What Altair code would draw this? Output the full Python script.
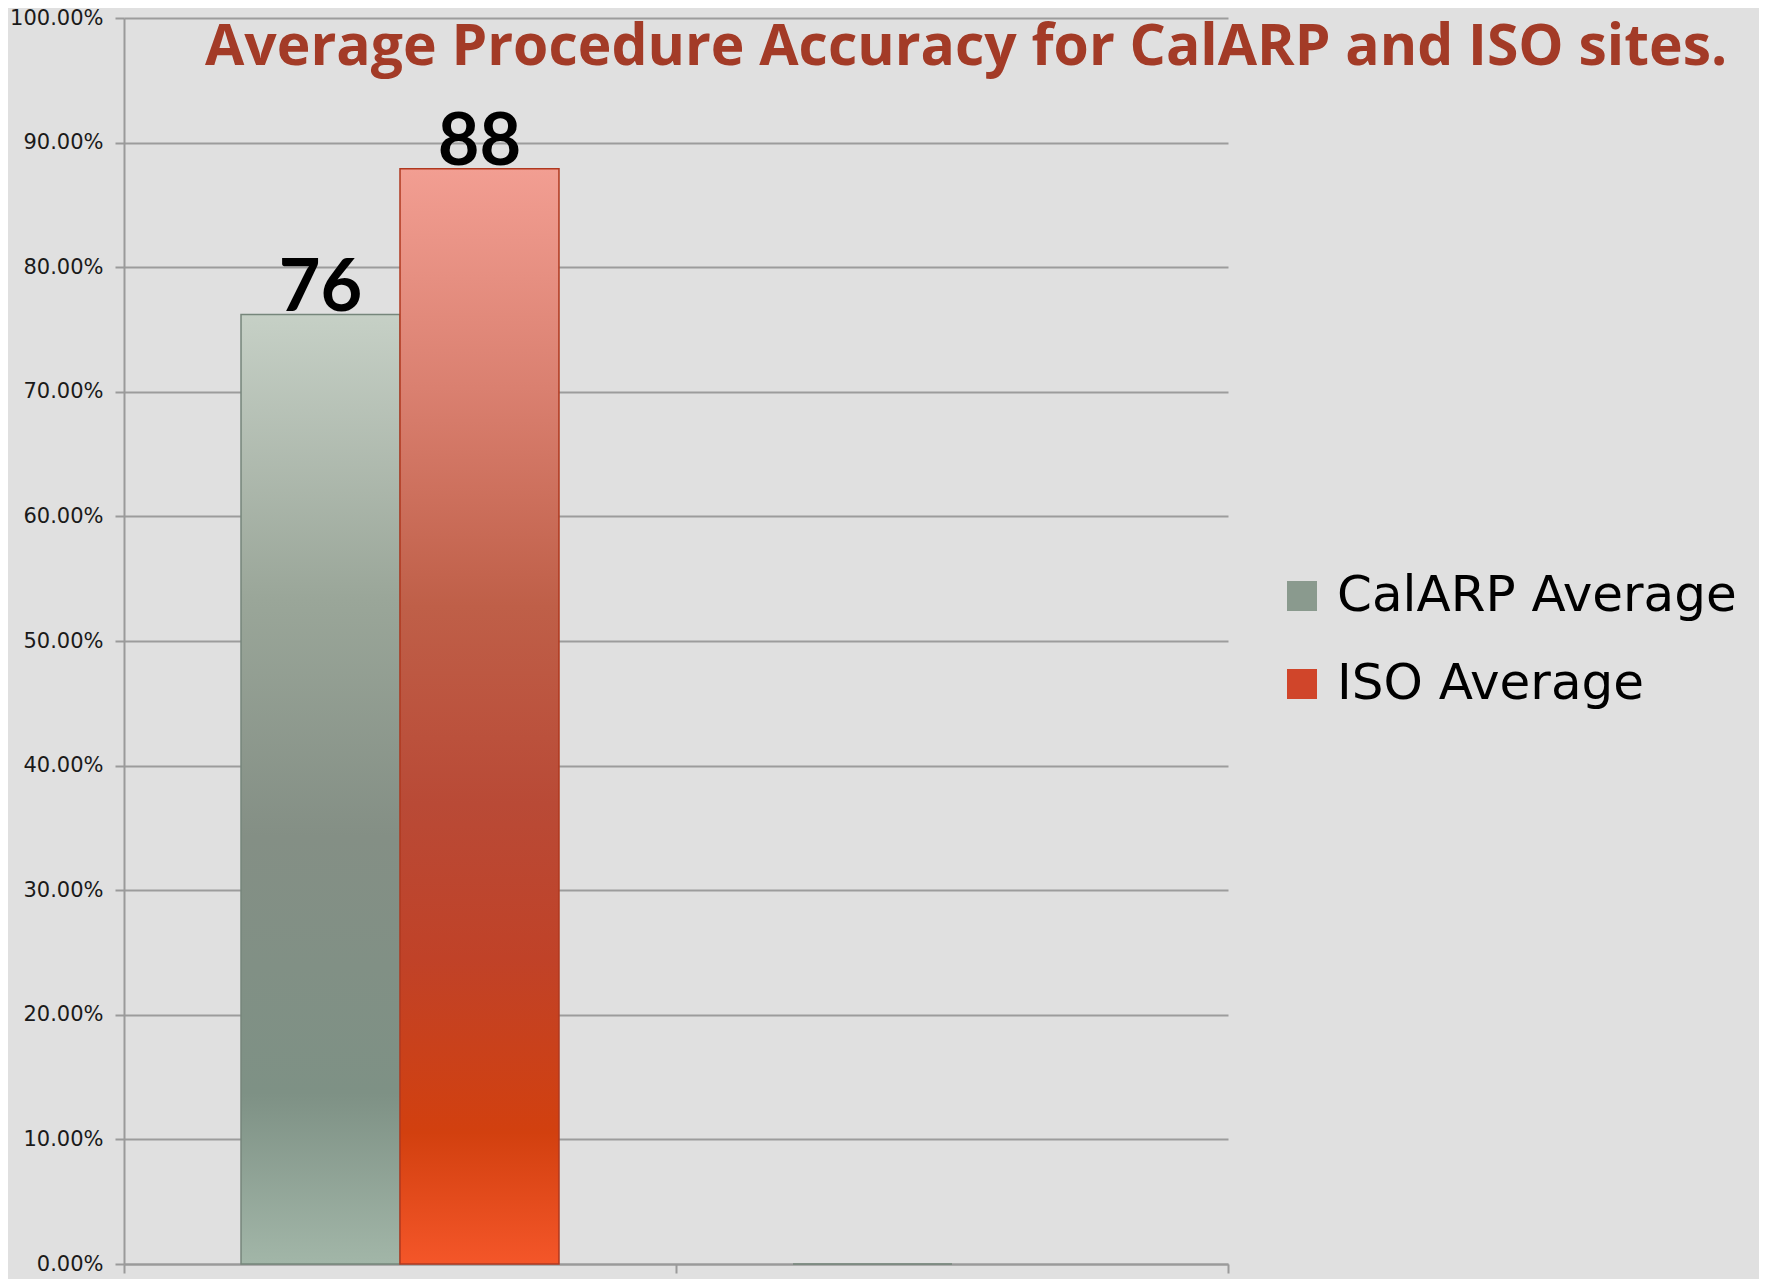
import altair as alt
import pandas as pd

categories = ["Group 1", "Group 2"]
series = ["CalARP Average", "ISO Average"]
calarp_values = [0.762, 0.0]
iso_values = [0.879, None]
calarp_labels = ["76", ""]
iso_labels = ["88", ""]
y_ticks = [i / 10 for i in range(11)]

rows = []
for c, v, l in zip(categories, calarp_values, calarp_labels):
    if v is not None:
        rows.append({"cat": c, "series": series[0], "value": v, "label": l})
for c, v, l in zip(categories, iso_values, iso_labels):
    if v is not None:
        rows.append({"cat": c, "series": series[1], "value": v, "label": l})
df = pd.DataFrame(rows)

grey_grad = alt.Gradient(
    gradient="linear", x1=0, x2=0, y1=0, y2=1,
    stops=[
        alt.GradientStop(offset=0, color="#C6D0C6"),
        alt.GradientStop(offset=0.3, color="#9AA699"),
        alt.GradientStop(offset=0.55, color="#848F85"),
        alt.GradientStop(offset=0.82, color="#7E9185"),
        alt.GradientStop(offset=1, color="#A2B6A8"),
    ],
)
red_grad = alt.Gradient(
    gradient="linear", x1=0, x2=0, y1=0, y2=1,
    stops=[
        alt.GradientStop(offset=0, color="#F29E92"),
        alt.GradientStop(offset=0.2, color="#DA8070"),
        alt.GradientStop(offset=0.4, color="#BF5F48"),
        alt.GradientStop(offset=0.58, color="#B94A36"),
        alt.GradientStop(offset=0.72, color="#C04228"),
        alt.GradientStop(offset=0.88, color="#D2400F"),
        alt.GradientStop(offset=1, color="#F45629"),
    ],
)

x_enc = alt.X(
    "cat:N",
    sort=categories,
    scale=alt.Scale(domain=categories, paddingInner=0, paddingOuter=0),
    axis=alt.Axis(
        title=None, labels=False, tickBand="extent", ticks=True, tickSize=9,
        tickColor="#9a9a9a", tickWidth=2, domainColor="#9a9a9a", domainWidth=2,
        grid=False,
    ),
)
xoff_enc = alt.XOffset(
    "series:N",
    sort=series,
    scale=alt.Scale(domain=series, paddingInner=0, paddingOuter=0.736),
)
y_enc = alt.Y(
    "value:Q",
    scale=alt.Scale(domain=[0, 1], nice=False),
    axis=alt.Axis(
        title=None, format=".2%", values=y_ticks, labelFont="DejaVu Sans",
        labelFontSize=21, labelColor="#1a1a1a", labelPadding=12,
        tickSize=9, tickColor="#9a9a9a", tickWidth=2,
        domainColor="#9a9a9a", domainWidth=2,
        grid=True, gridColor="#9c9c9c", gridWidth=2,
    ),
)

base = alt.Chart(df).encode(x=x_enc, xOffset=xoff_enc, y=y_enc)

legend_bars = base.mark_bar().encode(
    color=alt.Color(
        "series:N",
        sort=series,
        scale=alt.Scale(domain=series, range=["#8A9A8E", "#D0452A"]),
        legend=alt.Legend(
            title=None, orient="none", legendX=1153, legendY=553,
            symbolType="square", symbolSize=900, symbolStrokeWidth=1.5,
            labelFont="DejaVu Sans", labelFontSize=50, labelColor="#000000",
            labelOffset=10, rowPadding=38, padding=0, symbolOffset=0,
            labelLimit=0,
        ),
    )
)

grey_bars = base.mark_bar(color=grey_grad, stroke="#76867B", strokeWidth=1.5).transform_filter(
    alt.datum.series == series[0]
)
red_bars = base.mark_bar(color=red_grad, stroke="#B0381F", strokeWidth=1.5).transform_filter(
    alt.datum.series == series[1]
)

labels = base.mark_text(
    font="Lato", fontWeight="bold", fontSize=72, color="#000000",
    baseline="alphabetic", dy=-4,
).encode(text="label:N")

chart = (
    alt.layer(legend_bars, grey_bars, red_bars, labels)
    .properties(
        width=1104,
        height=1246,
        title=alt.TitleParams(
            text="Average Procedure Accuracy for CalARP and ISO sites.",
            font="Open Sans", fontSize=57, fontWeight="bold", color="#A33B27",
            anchor="start", frame="group", dx=81, dy=115, baseline="alphabetic",
            offset=0,
        ),
        autosize=alt.AutoSizeParams(type="none"),
        padding={"left": 116, "top": 10, "right": 531, "bottom": 15},
        background="#E0E0E0",
    )
    .configure_view(stroke=None, fill="#E0E0E0")
)

chart.save("out.html", embed_options={"renderer": "svg", "actions": False})
